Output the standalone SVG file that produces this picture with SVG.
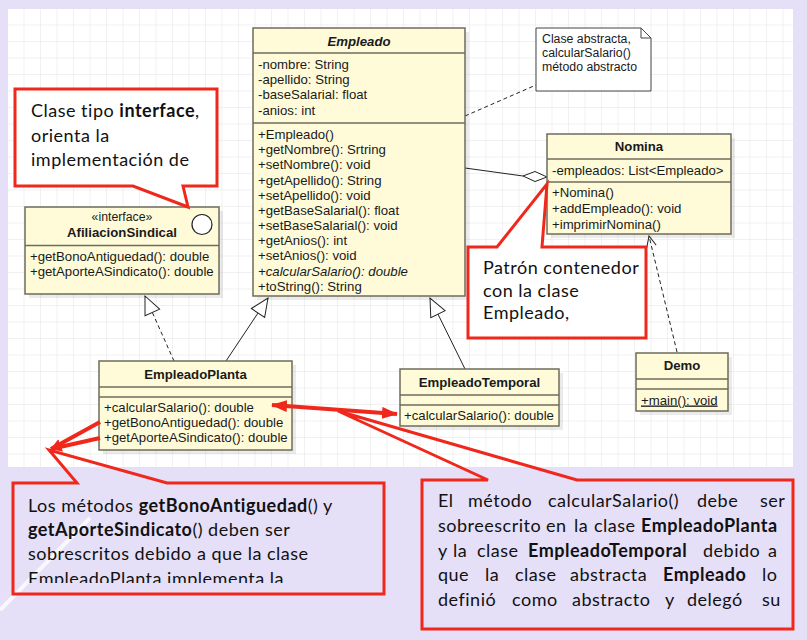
<svg xmlns="http://www.w3.org/2000/svg" width="807" height="640" viewBox="0 0 807 640">
<style>
.box{fill:#fffbd9;stroke:#6e6c5c;stroke-width:1.5}
.sep{stroke:#6e6c5c;stroke-width:1.5}
.shadow{fill:#000;opacity:0.08}
.t{font-family:"Liberation Sans",Arial,sans-serif;font-size:13.2px;fill:#1a1a1a}
.h{font-family:"Liberation Sans",Arial,sans-serif;font-size:13.2px;font-weight:bold;fill:#1a1a1a}
.n{font-family:"Liberation Sans",Arial,sans-serif;font-size:12.3px;fill:#1a1a1a}
.c{font-family:Lato,"Open Sans",sans-serif;font-size:18px;letter-spacing:0.5px;fill:#111}
.b{font-weight:bold}
.callout{stroke:#f0281c;stroke-width:3;stroke-linejoin:miter}
.line{stroke:#222;stroke-width:1;fill:none}
.dash{stroke:#222;stroke-width:1;fill:none;stroke-dasharray:4,3}
.red{stroke:#f0281c;stroke-width:4;fill:none}
</style>
<defs>
<pattern id="grid" x="8" y="9" width="16.5" height="16.5" patternUnits="userSpaceOnUse">
<path d="M16.5 0 V16.5 H0" fill="none" stroke="#e3e3e3" stroke-width="1"/>
</pattern>
<marker id="ra" viewBox="0 0 12 10" refX="11" refY="5" markerWidth="12" markerHeight="10" markerUnits="userSpaceOnUse" orient="auto-start-reverse">
<path d="M0,0 L12,5 L0,10 Z" fill="#f0281c"/>
</marker>
<marker id="ra2" viewBox="0 0 16 12" refX="15" refY="6" markerWidth="16" markerHeight="12" markerUnits="userSpaceOnUse" orient="auto-start-reverse">
<path d="M0,0 L16,6 L0,12 Z" fill="#f0281c"/>
</marker>
<marker id="tri" viewBox="0 0 20 18" refX="19" refY="9" markerWidth="20" markerHeight="18" markerUnits="userSpaceOnUse" orient="auto">
<path d="M1,1 L19,9 L1,17 Z" fill="#fff" stroke="#222" stroke-width="1"/>
</marker>
<marker id="open" viewBox="0 0 12 12" refX="11" refY="6" markerWidth="12" markerHeight="12" markerUnits="userSpaceOnUse" orient="auto">
<path d="M0,1 L11,6 L0,11" fill="none" stroke="#222" stroke-width="1"/>
</marker>
<clipPath id="clip3"><rect x="14" y="484" width="369" height="99"/></clipPath>
</defs>

<rect x="0" y="0" width="807" height="640" fill="#e5dff8"/>
<rect x="8" y="9" width="785" height="458" fill="#ffffff"/>
<rect x="8" y="9" width="785" height="458" fill="url(#grid)"/>
<line x1="0" y1="610" x2="90" y2="518" stroke="#ffffff" stroke-width="4" opacity="0.8"/>

<g id="connectors">
<line class="dash" x1="465" y1="116" x2="536" y2="85"/>
<line class="line" x1="465" y1="168" x2="523" y2="176"/>
<path d="M523,176 L535,171.5 L547,177 L535,181.5 Z" fill="#fff" stroke="#222" stroke-width="1"/>
<line class="dash" x1="677" y1="352" x2="649" y2="236" marker-end="url(#open)"/>
<line class="dash" x1="174" y1="361" x2="145" y2="296" marker-end="url(#tri)"/>
<line class="line" x1="226" y1="361" x2="268" y2="298" marker-end="url(#tri)"/>
<line class="line" x1="465" y1="369" x2="430" y2="298" marker-end="url(#tri)"/>
</g>

<g id="empleado">
<rect class="shadow" x="257" y="32" width="212" height="268"/>
<rect class="box" x="253" y="28" width="212" height="268"/>
<line class="sep" x1="253" y1="53" x2="465" y2="53"/>
<line class="sep" x1="253" y1="123" x2="465" y2="123"/>
<text class="h" x="359" y="46" text-anchor="middle" font-style="italic">Empleado</text>
<text class="t" x="258" y="69">-nombre: String</text>
<text class="t" x="258" y="84">-apellido: String</text>
<text class="t" x="258" y="99">-baseSalarial: float</text>
<text class="t" x="258" y="114.5">-anios: int</text>
<text class="t" x="258" y="139">+Empleado()</text>
<text class="t" x="258" y="154">+getNombre(): Srtring</text>
<text class="t" x="258" y="169">+setNombre(): void</text>
<text class="t" x="258" y="184.5">+getApellido(): String</text>
<text class="t" x="258" y="199.5">+setApellido(): void</text>
<text class="t" x="258" y="215">+getBaseSalarial(): float</text>
<text class="t" x="258" y="230">+setBaseSalarial(): void</text>
<text class="t" x="258" y="245">+getAnios(): int</text>
<text class="t" x="258" y="260">+setAnios(): void</text>
<text class="t" x="258" y="275.5" font-style="italic">+calcularSalario(): double</text>
<text class="t" x="258" y="290.5">+toString(): String</text>
</g>

<g id="nota">
<path d="M536,28 H641 L651,38 V91 H536 Z" fill="#fff" stroke="#444" stroke-width="1"/>
<path d="M641,28 V38 H651" fill="none" stroke="#444" stroke-width="1"/>
<text class="n" x="542" y="42.5">Clase abstracta,</text>
<text class="n" x="542" y="56.5">calcularSalario()</text>
<text class="n" x="542" y="70.5">método abstracto</text>
</g>

<g id="nomina">
<rect class="shadow" x="551" y="138" width="184" height="100"/>
<rect class="box" x="547" y="134" width="184" height="100"/>
<line class="sep" x1="547" y1="159" x2="731" y2="159"/>
<line class="sep" x1="547" y1="182" x2="731" y2="182"/>
<text class="h" x="639" y="150.5" text-anchor="middle">Nomina</text>
<text class="t" x="552" y="175">-empleados: List&lt;Empleado&gt;</text>
<text class="t" x="552" y="197">+Nomina()</text>
<text class="t" x="552" y="213">+addEmpleado(): void</text>
<text class="t" x="552" y="228.5">+imprimirNomina()</text>
</g>

<g id="afiliacion">
<rect class="shadow" x="29" y="211" width="194" height="87"/>
<rect class="box" x="25" y="207" width="194" height="87"/>
<line class="sep" x1="25" y1="245.5" x2="219" y2="245.5"/>
<circle cx="202" cy="224.5" r="10" fill="#fff" stroke="#222" stroke-width="1.2"/>
<text class="n" x="122" y="221" text-anchor="middle">«interface»</text>
<text class="h" x="122" y="236.5" text-anchor="middle">AfiliacionSindical</text>
<text class="t" x="30" y="261">+getBonoAntiguedad(): double</text>
<text class="t" x="30" y="276">+getAporteASindicato(): double</text>
</g>

<g id="empleadoPlanta">
<rect class="shadow" x="103" y="365" width="193" height="89"/>
<rect class="box" x="99" y="361" width="193" height="89"/>
<line class="sep" x1="99" y1="387" x2="292" y2="387"/>
<line class="sep" x1="99" y1="397" x2="292" y2="397"/>
<text class="h" x="195.5" y="379" text-anchor="middle">EmpleadoPlanta</text>
<text class="t" x="104" y="412">+calcularSalario(): double</text>
<text class="t" x="104" y="427">+getBonoAntiguedad(): double</text>
<text class="t" x="104" y="442">+getAporteASindicato(): double</text>
</g>

<g id="empleadoTemporal">
<rect class="shadow" x="404" y="373" width="159" height="57"/>
<rect class="box" x="400" y="369" width="159" height="57"/>
<line class="sep" x1="400" y1="395" x2="559" y2="395"/>
<line class="sep" x1="400" y1="405" x2="559" y2="405"/>
<text class="h" x="479.5" y="387" text-anchor="middle">EmpleadoTemporal</text>
<text class="t" x="404" y="420">+calcularSalario(): double</text>
</g>

<g id="demo">
<rect class="shadow" x="640" y="357" width="92" height="58"/>
<rect class="box" x="636" y="353" width="92" height="58"/>
<line class="sep" x1="636" y1="379" x2="728" y2="379"/>
<line class="sep" x1="636" y1="389" x2="728" y2="389"/>
<text class="h" x="682" y="370" text-anchor="middle">Demo</text>
<text class="t" x="641" y="404.5" text-decoration="underline">+main(): void</text>
</g>

<g id="red-arrows">
<line class="red" x1="272" y1="405" x2="397" y2="414" marker-start="url(#ra2)" marker-end="url(#ra2)"/>
<line class="red" x1="100" y1="422" x2="51" y2="449" marker-end="url(#ra)"/>
<line class="red" x1="100" y1="438" x2="51" y2="449" marker-end="url(#ra)"/>
</g>

<g id="callout-interface">
<path class="callout" d="M15,89 H217 V186 H183 L188,207 L133,186 H15 Z" fill="#fff"/>
<text class="c" x="31" y="117">Clase tipo <tspan class="b">interface</tspan>,</text>
<text class="c" x="31" y="142">orienta la</text>
<text class="c" x="31" y="166">implementación de</text>
</g>

<g id="callout-contenedor">
<path class="callout" d="M468,247 H497 L547,184 L542,247 H646 V338 H468 Z" fill="#fff"/>
<text class="c" x="483" y="274">Patrón contenedor</text>
<text class="c" x="483" y="297">con la clase</text>
<text class="c" x="483" y="319">Empleado,</text>
</g>

<g id="callout-metodos">
<path class="callout" d="M13,483 H77 L49,450 L167,483 H384 V594 H13 Z" fill="none"/>
<g clip-path="url(#clip3)">
<text class="c" x="28" y="512">Los métodos <tspan class="b">getBonoAntiguedad</tspan>() y</text>
<text class="c" x="28" y="536"><tspan class="b">getAporteSindicato</tspan>() deben ser</text>
<text class="c" x="28" y="560">sobrescritos debido a que la clase</text>
<text class="c" x="28" y="585">EmpleadoPlanta implementa la</text>
</g>
</g>

<g id="callout-calcular">
<path class="callout" d="M422,480 H488 L338,411 L577,480 H793 V629 H422 Z" fill="none"/>
<text class="c" y="507"><tspan x="438">El</tspan><tspan x="468">método</tspan><tspan x="548">calcularSalario()</tspan><tspan x="697">debe</tspan><tspan x="760">ser</tspan></text>
<text class="c" y="532"><tspan x="438">sobreescrito</tspan><tspan x="546">en</tspan><tspan x="574">la</tspan><tspan x="594">clase</tspan><tspan x="641" class="b">EmpleadoPlanta</tspan></text>
<text class="c" y="557"><tspan x="438">y</tspan><tspan x="453">la</tspan><tspan x="477">clase</tspan><tspan x="528" class="b">EmpleadoTemporal</tspan><tspan x="703">debido</tspan><tspan x="768">a</tspan></text>
<text class="c" y="581"><tspan x="438">que</tspan><tspan x="485">la</tspan><tspan x="515">clase</tspan><tspan x="570">abstracta</tspan><tspan x="663" class="b">Empleado</tspan><tspan x="762">lo</tspan></text>
<text class="c" y="606"><tspan x="438">definió</tspan><tspan x="512">como</tspan><tspan x="572">abstracto</tspan><tspan x="665">y</tspan><tspan x="687">delegó</tspan><tspan x="762">su</tspan></text>
</g>
</svg>
